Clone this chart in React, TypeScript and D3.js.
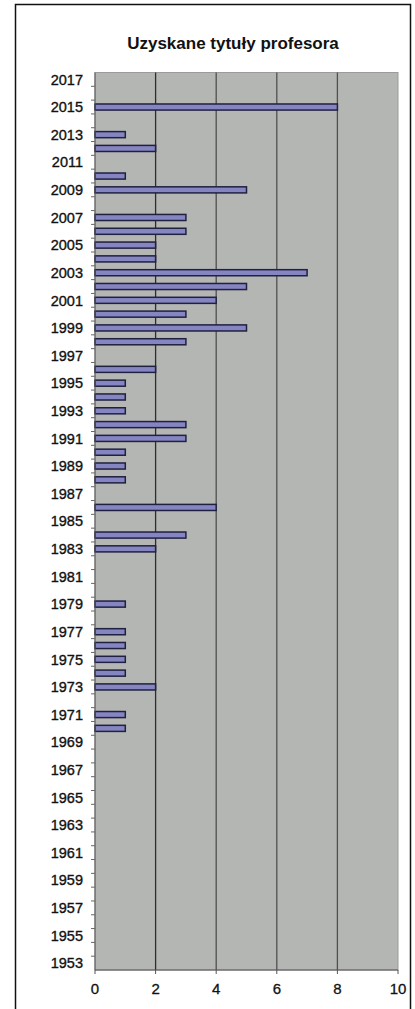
import { useEffect, useRef } from "react";
import * as d3 from "d3";

// lata od 1953 do 2017 (oś kategorii)
const firstYear = 1953;
const lastYear = 2017;
const years: number[] = d3.range(firstYear, lastYear + 1);

// liczba uzyskanych tytułów w danym roku (lata bez tytułów pominięte)
const titleYears = [
  2015, 2013, 2012, 2010, 2009, 2007, 2006, 2005, 2004, 2003, 2002, 2001, 2000,
  1999, 1998, 1996, 1995, 1994, 1993, 1992, 1991, 1990, 1989, 1988, 1986, 1984,
  1983, 1979, 1977, 1976, 1975, 1974, 1973, 1971, 1970,
];
const titleCounts = [
  8, 1, 2, 1, 5, 3, 3, 2, 2, 7, 5, 4, 3,
  5, 3, 2, 1, 1, 1, 3, 3, 1, 1, 1, 4, 3,
  2, 1, 1, 1, 1, 1, 2, 1, 1,
];

const xTicks = [0, 2, 4, 6, 8, 10];
const labelYears = years.filter((y) => (y - firstYear) % 2 === 0);

const title = "Uzyskane tytuły profesora";

export default function App() {
  const svgRef = useRef<SVGSVGElement | null>(null);

  useEffect(() => {
    const width = 415;
    const height = 1009;
    const plot = { left: 95, right: 398, top: 72.5, bottom: 970 };
    const font = "Arial, 'Liberation Sans', sans-serif";

    const svg = d3.select(svgRef.current);
    svg.selectAll("*").remove();
    svg.attr("width", width).attr("height", height);

    // ramka wykresu
    svg.append("rect")
      .attr("x", 15.5)
      .attr("y", 4.5)
      .attr("width", 395)
      .attr("height", 1020)
      .attr("fill", "#ffffff")
      .attr("stroke", "#111")
      .attr("stroke-width", 1.5);

    svg.append("text")
      .attr("x", 233)
      .attr("y", 49)
      .attr("text-anchor", "middle")
      .attr("font-family", font)
      .attr("font-weight", "bold")
      .attr("font-size", 17)
      .attr("fill", "#111")
      .text(title);

    const x = d3.scaleLinear().domain([0, 10]).range([plot.left, plot.right]);
    const y = d3.scaleBand<number>()
      .domain([...years].reverse())
      .range([plot.top, plot.bottom])
      .paddingInner(0.56)
      .paddingOuter(0.28);

    const step = y.step();
    const center = (yr: number) => (y(yr) as number) + y.bandwidth() / 2;

    // tło obszaru kreślenia
    svg.append("rect")
      .attr("x", plot.left)
      .attr("y", plot.top)
      .attr("width", plot.right - plot.left)
      .attr("height", plot.bottom - plot.top)
      .attr("fill", "#b4b6b3")
      .attr("stroke", "#9a9c99")
      .attr("stroke-width", 1);

    // linie siatki
    svg.selectAll(".grid")
      .data(xTicks.filter((t) => t > 0 && t < 10))
      .enter().append("line")
      .attr("class", "grid")
      .attr("x1", (d) => x(d))
      .attr("x2", (d) => x(d))
      .attr("y1", plot.top)
      .attr("y2", plot.bottom)
      .attr("stroke", (d) => (d === 2 ? "#2e2e2e" : "#505050"))
      .attr("stroke-width", 1.3);

    // słupki
    const data = titleYears.map((yr, i) => ({ year: yr, count: titleCounts[i] }));
    svg.selectAll(".bar")
      .data(data)
      .enter().append("rect")
      .attr("class", "bar")
      .attr("x", x(0))
      .attr("y", (d) => y(d.year) as number)
      .attr("width", (d) => x(d.count) - x(0))
      .attr("height", y.bandwidth())
      .attr("fill", "#8585c2")
      .attr("stroke", "#202040")
      .attr("stroke-width", 1.5);

    // oś Y
    svg.append("line")
      .attr("x1", plot.left).attr("x2", plot.left)
      .attr("y1", plot.top).attr("y2", plot.bottom)
      .attr("stroke", "#555").attr("stroke-width", 1);

    svg.selectAll(".ytick")
      .data(years.slice(0, -1))
      .enter().append("line")
      .attr("class", "ytick")
      .attr("x1", plot.left - 4)
      .attr("x2", plot.left)
      .attr("y1", (d) => center(d) - step / 2)
      .attr("y2", (d) => center(d) - step / 2)
      .attr("stroke", "#666")
      .attr("stroke-width", 1);

    svg.selectAll(".ylabel")
      .data(labelYears)
      .enter().append("text")
      .attr("class", "ylabel")
      .attr("x", 83)
      .attr("y", (d) => center(d))
      .attr("dy", "0.36em")
      .attr("text-anchor", "end")
      .attr("font-family", font)
      .attr("font-size", 14.5)
      .attr("fill", "#111")
      .attr("stroke", "#111")
      .attr("stroke-width", 0.35)
      .text((d) => String(d));

    // oś X
    svg.append("line")
      .attr("x1", plot.left).attr("x2", plot.right)
      .attr("y1", plot.bottom).attr("y2", plot.bottom)
      .attr("stroke", "#555").attr("stroke-width", 1.2);

    svg.selectAll(".xtick")
      .data(xTicks)
      .enter().append("line")
      .attr("class", "xtick")
      .attr("x1", (d) => x(d)).attr("x2", (d) => x(d))
      .attr("y1", plot.bottom).attr("y2", plot.bottom + 4)
      .attr("stroke", "#555").attr("stroke-width", 1);

    svg.selectAll(".xlabel")
      .data(xTicks)
      .enter().append("text")
      .attr("class", "xlabel")
      .attr("x", (d) => x(d))
      .attr("y", 994)
      .attr("text-anchor", "middle")
      .attr("font-family", font)
      .attr("font-size", 15)
      .attr("fill", "#111")
      .attr("stroke", "#111")
      .attr("stroke-width", 0.3)
      .text((d) => String(d));
  }, []);

  return (
    <svg
      ref={svgRef}
      style={{ position: "absolute", left: 0, top: 0, background: "#fff" }}
    />
  );
}
